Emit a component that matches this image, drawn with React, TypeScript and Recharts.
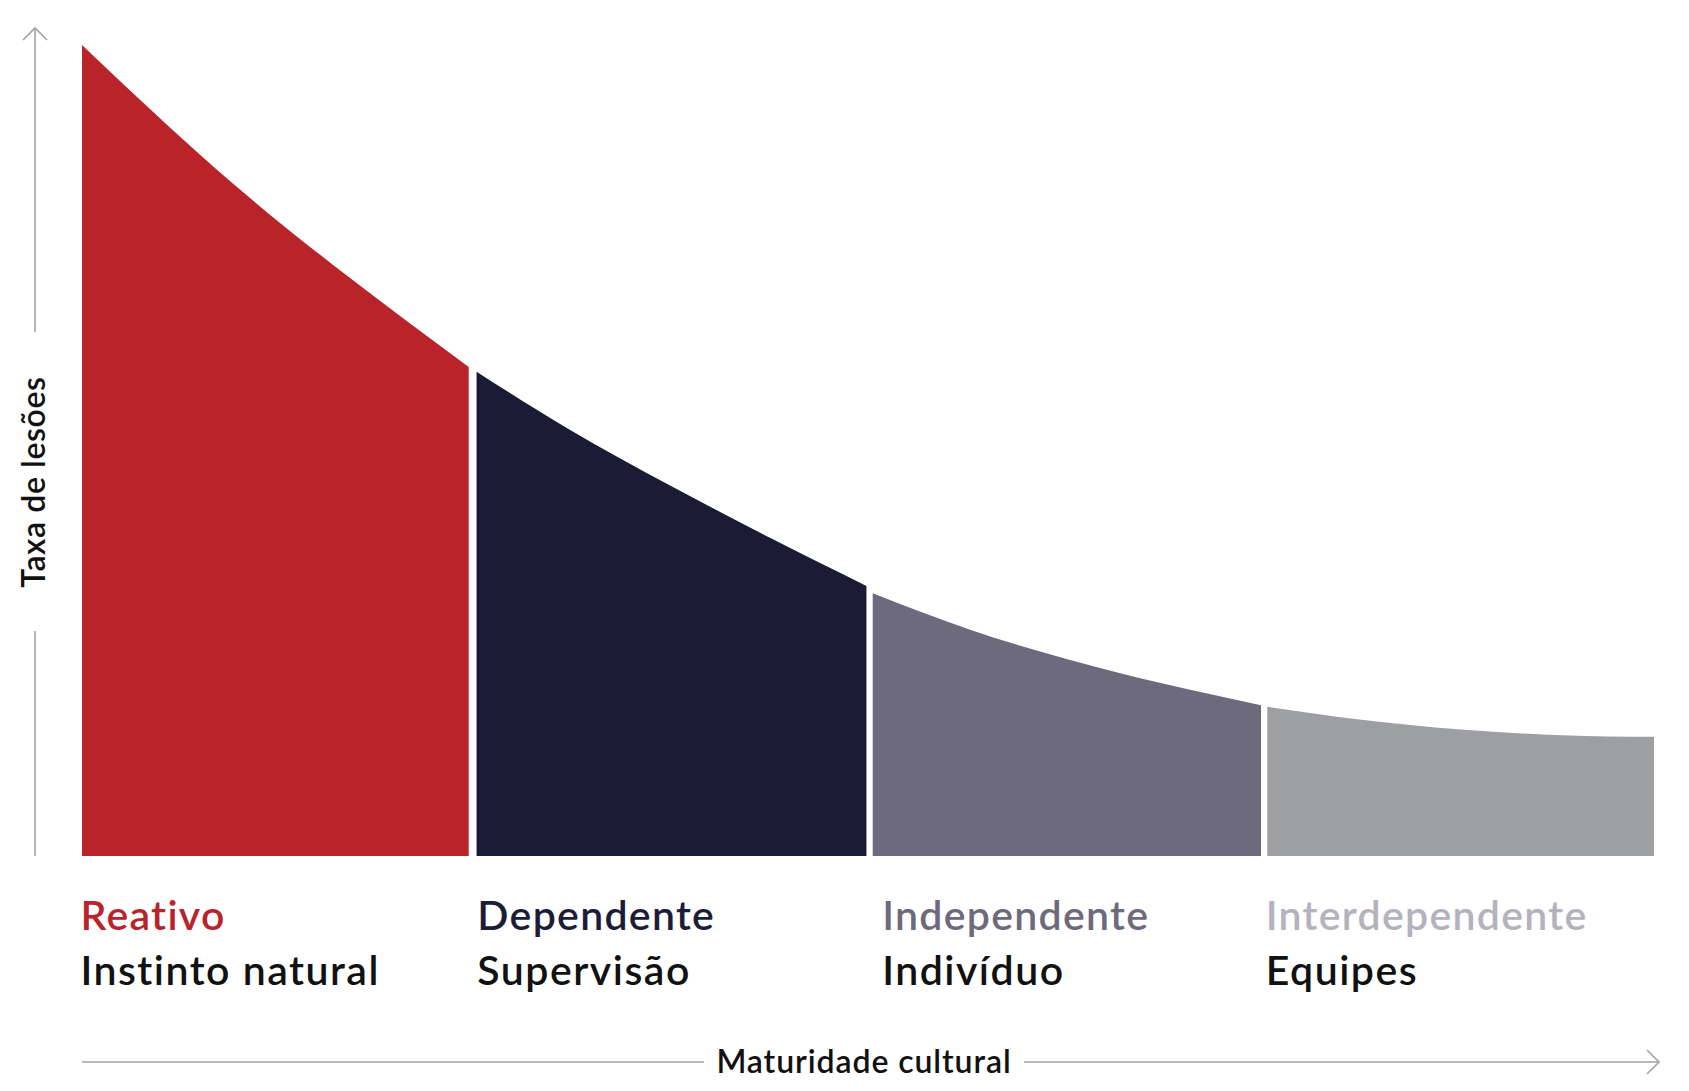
import { ComposedChart, Area, XAxis, YAxis } from 'recharts';

// Curve: x = cultural maturity (0-100), taxa = injury rate (0-100)
const reativoPts = [
    { x: 0, taxa: 100 },
    { x: 8.6, taxa: 84.6 },
    { x: 16.7, taxa: 71.8 },
    { x: 24.6, taxa: 60.3 },
];
const dependentePts = [
    { x: 25.1, taxa: 59.7 },
    { x: 31.0, taxa: 52.6 },
    { x: 37.5, taxa: 45.6 },
    { x: 43.8, taxa: 39.2 },
    { x: 49.9, taxa: 33.3 },
];
const independentePts = [
    { x: 50.3, taxa: 32.4 },
    { x: 56.5, taxa: 27.9 },
    { x: 62.8, taxa: 24.2 },
    { x: 68.9, taxa: 21.2 },
    { x: 75.0, taxa: 18.6 },
];
const interdependentePts = [
    { x: 75.4, taxa: 18.4 },
    { x: 81.4, taxa: 16.8 },
    { x: 87.7, taxa: 15.6 },
    { x: 94.1, taxa: 14.9 },
    { x: 100, taxa: 14.7 },
];

const stageNames = ['Reativo', 'Dependente', 'Independente', 'Interdependente'];
const stageDrivers = ['Instinto natural', 'Supervisão', 'Indivíduo', 'Equipes'];
const stageTicks = [-0.1, 25.15, 50.9, 75.3];
const fillColors = ['#B8242A', '#1B1B35', '#6D6A7D', '#9E9FA3'];
const nameColors = ['#B8242A', '#1C1C38', '#6E697C', '#B4B2BC'];

const series = [reativoPts, dependentePts, independentePts, interdependentePts];

const FONT = 'Lato, "Noto Sans", sans-serif';
const AXIS_GREY = '#A3A3A6';

function StageTick(props: any) {
    const { x, y, index } = props;
    return (
        <g>
            <text x={x} y={y + 66} textAnchor="start" fontFamily={FONT} fontWeight={600} fontSize={41} letterSpacing={1.3} fill={nameColors[index]}>
                {stageNames[index]}
            </text>
            <text x={x} y={y + 121} textAnchor="start" fontFamily={FONT} fontWeight={600} fontSize={41} letterSpacing={1.5} fill="#111111">
                {stageDrivers[index]}
            </text>
        </g>
    );
}

export default function App() {
    return (
        <div style={{ position: 'absolute', left: 0, top: 0, width: 1689, height: 1091, background: '#fff' }}>
            <ComposedChart width={1689} height={1091} margin={{ top: 45, right: 35, bottom: 135, left: 82 }}>
                <XAxis
                    type="number"
                    dataKey="x"
                    domain={[0, 100]}
                    ticks={stageTicks}
                    interval={0}
                    axisLine={false}
                    tickLine={false}
                    height={100}
                    tick={<StageTick />}
                    allowDataOverflow
                />
                <YAxis type="number" domain={[0, 100]} hide />
                {series.map((pts, i) => (
                    <Area
                        key={stageNames[i]}
                        data={pts}
                        dataKey="taxa"
                        type="natural"
                        stroke="none"
                        fill={fillColors[i]}
                        fillOpacity={1}
                        isAnimationActive={false}
                        dot={false}
                        activeDot={false}
                    />
                ))}
            </ComposedChart>
            <svg width={1689} height={1091} style={{ position: 'absolute', left: 0, top: 0, pointerEvents: 'none' }}>
                <g stroke={AXIS_GREY} strokeWidth={1.6} fill="none">
                    <line x1={35} y1={28} x2={35} y2={332} />
                    <line x1={35} y1={631} x2={35} y2={856} />
                    <polyline points="23,40 35,28 47,40" />
                    <line x1={82} y1={1062} x2={704} y2={1062} />
                    <line x1={1024} y1={1062} x2={1659} y2={1062} />
                    <polyline points="1647,1050 1659,1062 1647,1074" />
                </g>
                <text
                    x={32}
                    y={482}
                    transform="rotate(-90 32 482)"
                    textAnchor="middle"
                    dominantBaseline="central"
                    fontFamily={FONT}
                    fontWeight={600}
                    fontSize={32}
                    letterSpacing={0.6}
                    fill="#111111"
                >
                    Taxa de lesões
                </text>
                <text x={864} y={1073} textAnchor="middle" fontFamily={FONT} fontWeight={600} fontSize={32} letterSpacing={0.9} fill="#111111">
                    Maturidade cultural
                </text>
            </svg>
        </div>
    );
}
